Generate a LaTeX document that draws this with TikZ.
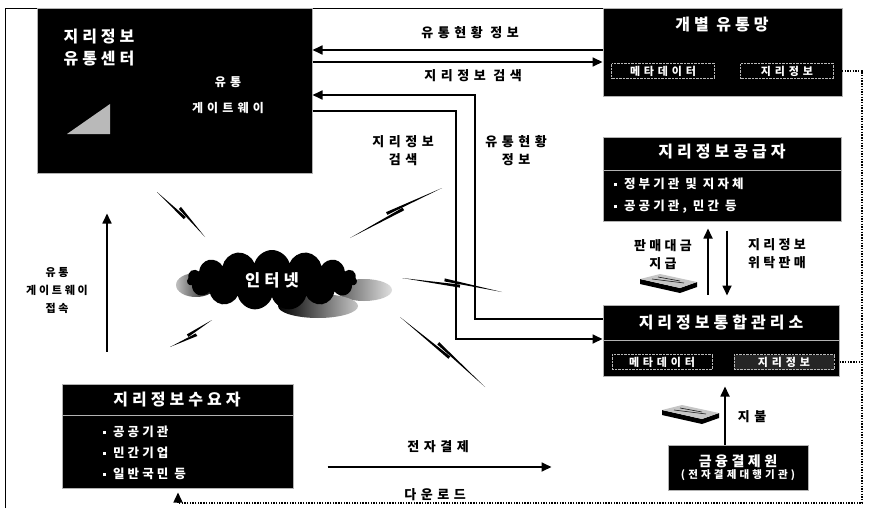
\documentclass[tikz,border=0pt]{standalone}
\usepackage{fontspec}
\setmainfont{Noto Sans CJK KR}[LetterSpace=25]
\usetikzlibrary{arrows.meta,calc,shapes.symbols}

\newcommand\sq{\rule[2.5pt]{3.5pt}{3.5pt}\hspace{7pt}}
% two tapered wedges with a jog between them
\newcommand\netlink[2]{%
  \fill (#1) -- ($(#1)!0.58!(#2)!1.5pt!90:(#2)$) -- ($(#1)!0.58!(#2)!1.5pt!-90:(#2)$) -- cycle;
  \fill (#2) -- ($(#1)!0.42!(#2)!5.5pt!90:(#2)$) -- ($(#1)!0.42!(#2)!2.5pt!90:(#2)$) -- cycle;}

\begin{document}
\begin{tikzpicture}[x=1pt,y=-1pt,
  box/.style={draw=gray!60, line width=1pt, fill=black, text=white},
  cell/.style={draw=gray!55, densely dotted, thin, fill=black, text=white,
    font=\fontsize{11}{12}\selectfont\bfseries\addfontfeature{LetterSpace=35}, minimum height=15pt, inner sep=0pt},
  boxtitle/.style={text=white, font=\fontsize{16}{18}\selectfont\bfseries},
  note/.style={font=\fontsize{13}{18}\selectfont\bfseries\addfontfeature{LetterSpace=35}, align=center},
  flow/.style={line width=1.7pt, -{Triangle[length=10pt,width=9pt]}},
  dl/.style={line width=1.4pt, dash pattern=on 1.4pt off 1.3pt, -{Triangle[length=10pt,width=9pt]}},
  cash/.pic={
    \fill[black] (0,5) -- (0,10) -- (40,19) -- (57,13) -- (57,8) -- (40,14) -- cycle;
    \fill[gray!45] (0,5) -- (20,0) -- (57,8) -- (40,14) -- cycle;
    \draw[gray!20!black, line width=0.6pt] (12,5) -- (44,9) (18,3) -- (40,7);
  }]
\useasboundingbox (0,0) rectangle (869,516);
\draw[line width=0.8pt] (5,508) -- (5,8) -- (843,8);

% boxes
\node[box, minimum width=275pt, minimum height=164pt] (center) at (174.5,91) {};
\node[boxtitle, font=\fontsize{16}{22}\selectfont\bfseries, align=left, anchor=north west] (centertitle) at (60,25) {지리정보\\유통센터};
\node[boxtitle, font=\fontsize{12}{26}\selectfont\bfseries\addfontfeature{LetterSpace=35}, align=center] (gateway) at (228,95) {유통\\게이트웨이};
\fill[gray!55] (67,134) -- (110,104) -- (110,134) -- cycle;

\node[box, minimum width=239pt, minimum height=88pt] (channel) at (722.5,53) {};
\node[boxtitle] (channeltitle) at (722,25) {개별 유통망};
\node[cell, minimum width=103pt] (channelmeta) at (663,71) {메타데이터};
\node[cell, minimum width=93pt] (channelgeo) at (787,71) {지리정보};

\node[box, minimum width=238pt, minimum height=84pt] (supplier) at (722,179) {};
\node[boxtitle] (suppliertitle) at (722,152) {지리정보공급자};
\draw[gray!60] ([yshift=9pt]supplier.west) -- ([yshift=9pt]supplier.east);
\node[boxtitle, font=\fontsize{12.5}{22}\selectfont\bfseries, align=left, anchor=west] (supplierlist) at (610,196) {\sq 정부기관 및 지자체\\\sq 공공기관, 민간 등};

\node[box, minimum width=236pt, minimum height=71pt] (office) at (721,340.5) {};
\node[boxtitle] (officetitle) at (721,322) {지리정보통합관리소};
\draw[gray!60] (office.west) -- (office.east);
\node[cell, minimum width=100pt] (officemeta) at (662,362) {메타데이터};
\node[cell, minimum width=100pt, fill=gray!30!black] (officegeo) at (784,362) {지리정보};

\node[box, minimum width=140pt, minimum height=45pt, align=center, inner sep=0pt] (bank) at (738,467.5)
  {{\fontsize{14}{17}\selectfont\bfseries 금융결제원}\\{\fontsize{10.5}{12}\selectfont\bfseries\addfontfeature{LetterSpace=30} (전자결제대행기관)}};

\node[box, minimum width=231pt, minimum height=104pt] (user) at (177.5,436) {};
\node[boxtitle] (usertitle) at (177,400) {지리정보수요자};
\draw[gray!60] ([yshift=21pt]user.west) -- ([yshift=21pt]user.east);
\node[boxtitle, font=\fontsize{12.5}{21}\selectfont\bfseries, align=left, anchor=west] (userlist) at (99,453) {\sq 공공기관\\\sq 민간기업\\\sq 일반국민 등};

% internet
\shade[left color=gray!70!black, right color=gray!25] (364,290) ellipse [x radius=28pt, y radius=11pt];
\shade[left color=black, right color=gray!45] (318,306) ellipse [x radius=40pt, y radius=12pt];
\shade[left color=gray!50, right color=black] (196,285) ellipse [x radius=20pt, y radius=12pt];
\node[cloud, cloud puffs=15, aspect=3.2, fill=black, text=white, minimum width=170pt, minimum height=60pt,
  inner sep=0pt, font=\fontsize{16.5}{19}\selectfont\bfseries] (net) at (272,280) {인터넷};

\netlink{157,192}{205,237}
\netlink{350,238}{442,188}
\netlink{402,278}{502,292}
\netlink{400,317}{485,387}
\netlink{212,320}{170,347}

% money
\path (640,274) pic {cash};
\path (662,405) pic {cash};

% helper rows and columns
\coordinate (r1) at (0,50);
\coordinate (r2) at (0,62);
\coordinate (k3) at (475,95);
\coordinate (r3) at (0,319);
\coordinate (k4) at (456,111);
\coordinate (r4) at (0,339);
\coordinate (upcol) at (708,0);
\coordinate (downcol) at (727,0);
\coordinate (paycol) at (725,0);
\coordinate (gwcol) at (107,0);
\coordinate (erow) at (0,467);
\coordinate (railx) at (862,0);
\coordinate (dlrow) at (0,503);
\coordinate (dlcol) at (178,0);

% connectors
\draw[flow] (channel.west |- r1) -- (center.east |- r1);
\draw[flow] (center.east |- r2) -- (channel.west |- r2);
\draw[flow] (office.west |- r3) -| (k3) -- (center.east |- k3);
\draw[flow] (center.east |- k4) -- (k4) |- (office.west |- r4);
\draw[flow, shorten <=10pt, shorten >=7pt] (office.north -| upcol) -- (supplier.south -| upcol);
\draw[flow, shorten <=9pt, shorten >=9pt] (supplier.south -| downcol) -- (office.north -| downcol);
\draw[flow, shorten >=10pt] (bank.north -| paycol) -- (office.south -| paycol);
\draw[flow, shorten <=32pt, shorten >=40pt] (user.north -| gwcol) -- (center.south -| gwcol);
\draw[flow, shorten <=34pt, shorten >=116pt] (user.east |- erow) -- (bank.west |- erow);
\draw[dl, shorten >=4pt] (channelgeo.east) -| (railx |- dlrow) -| (user.south -| dlcol);
\draw[dl, -] (officegeo.east) -- (officegeo.east -| railx);

% labels
\node[note] (info1) at (470,33) {유통현황 정보};
\node[note] (search1) at (473,76) {지리정보 검색};
\node[note] (search2) at (403,151) {지리정보\\검색};
\node[note] (info2) at (516,151) {유통현황\\정보};
\node[note, font=\fontsize{11}{18}\selectfont\bfseries] (connect) at (57,290) {유통\\게이트웨이\\접속};
\node[note, font=\fontsize{13}{18}\selectfont\bfseries] (paylbl) at (663,255) {판매대금\\지급};
\node[note, font=\fontsize{13}{18}\selectfont\bfseries] (salelbl) at (777,254) {지리정보\\위탁판매};
\node[note] (paid) at (752,417) {지불};
\node[note] (epay) at (438,447) {전자결제};
\node[note] (download) at (435,495) {다운로드};
\end{tikzpicture}
\end{document}
